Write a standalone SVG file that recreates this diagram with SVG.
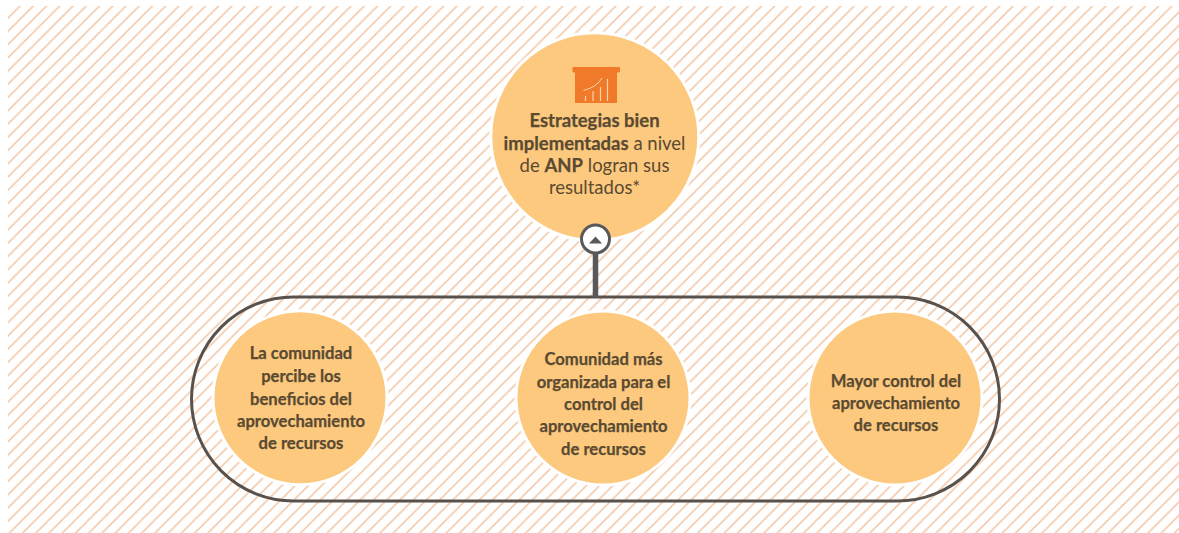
<svg xmlns="http://www.w3.org/2000/svg" width="1179" height="533" viewBox="0 0 1179 533">
<style>
.c{fill:#fcc97e;stroke:#fff;stroke-width:3}
text{font-family:"Lato","Noto Sans","Liberation Sans",sans-serif;fill:#5a4a32;text-anchor:middle}
.t{font-size:18.500px}
.s{font-size:16.600px;font-weight:700;stroke:#5a4a32;stroke-width:.25px}
.b{font-weight:700;stroke:#5a4a32;stroke-width:.25px}
</style>
<defs>
<pattern id="h" width="13.24" height="13.24" patternUnits="userSpaceOnUse" patternTransform="translate(8 4.800)">
<path d="M-3.3 3.3L3.3 -3.3M0 13.24L13.24 0M9.94 16.54L16.54 9.94" stroke="#f3c9aa" stroke-width="1.600" fill="none"/>
</pattern>
</defs>
<rect width="1179" height="533" fill="#fff"/>
<rect id="hatch" x="8" y="6" width="1171" height="527" fill="url(#h)"/>
<g id="connectors">
<rect x="191.500" y="297" width="808" height="204" rx="102" fill="none" stroke="#59514b" stroke-width="3"/>
<path d="M595.500 250V297" stroke="#59595b" stroke-width="5.500" fill="none"/>
</g>
<g id="top">
<circle class="c" cx="594.800" cy="136.800" r="104"/>
<g id="icon" fill="#f07a2a">
<rect x="572.500" y="67" width="47.500" height="5.500" rx="1"/>
<rect x="575" y="72" width="42" height="31"/>
<path d="M583.500 90.500Q597 87 602 78" stroke="#fbd5ae" stroke-width="1" fill="none"/>
<path d="M585.500 101V96M593 101V91M600.500 101V87M607.500 101V79" stroke="#fbd5ae" stroke-width="1.200" fill="none"/>
</g>
<text class="t" x="594.500" y="127"><tspan class="b">Estrategias bien</tspan></text>
<text class="t" x="594.500" y="149.500"><tspan class="b">implementadas</tspan> a nivel</text>
<text class="t" x="594.500" y="172"><tspan>de </tspan><tspan class="b">ANP</tspan> logran sus</text>
<text class="t" x="594.500" y="194">resultados*</text>
</g>
<g id="handle">
<circle cx="595.500" cy="239" r="14" fill="#fff" stroke="#59595b" stroke-width="3"/>
<path d="M589 243.500L595.500 236.500L602 243.500Z" fill="#59595b"/>
</g>
<g id="n1">
<circle class="c" cx="300" cy="397.700" r="87"/>
<text class="s" x="301" y="359">La comunidad</text>
<text class="s" x="301" y="382">percibe los</text>
<text class="s" x="301" y="405">beneficios del</text>
<text class="s" x="301" y="427">aprovechamiento</text>
<text class="s" x="301" y="449">de recursos</text>
</g>
<g id="n2">
<circle class="c" cx="603" cy="398" r="87"/>
<text class="s" x="603.500" y="365">Comunidad más</text>
<text class="s" x="603.500" y="388">organizada para el</text>
<text class="s" x="603.500" y="410">control del</text>
<text class="s" x="603.500" y="432">aprovechamiento</text>
<text class="s" x="603.500" y="455">de recursos</text>
</g>
<g id="n3">
<circle class="c" cx="895" cy="398" r="87"/>
<text class="s" x="896" y="387">Mayor control del</text>
<text class="s" x="896" y="409">aprovechamiento</text>
<text class="s" x="896" y="431">de recursos</text>
</g>
</svg>
